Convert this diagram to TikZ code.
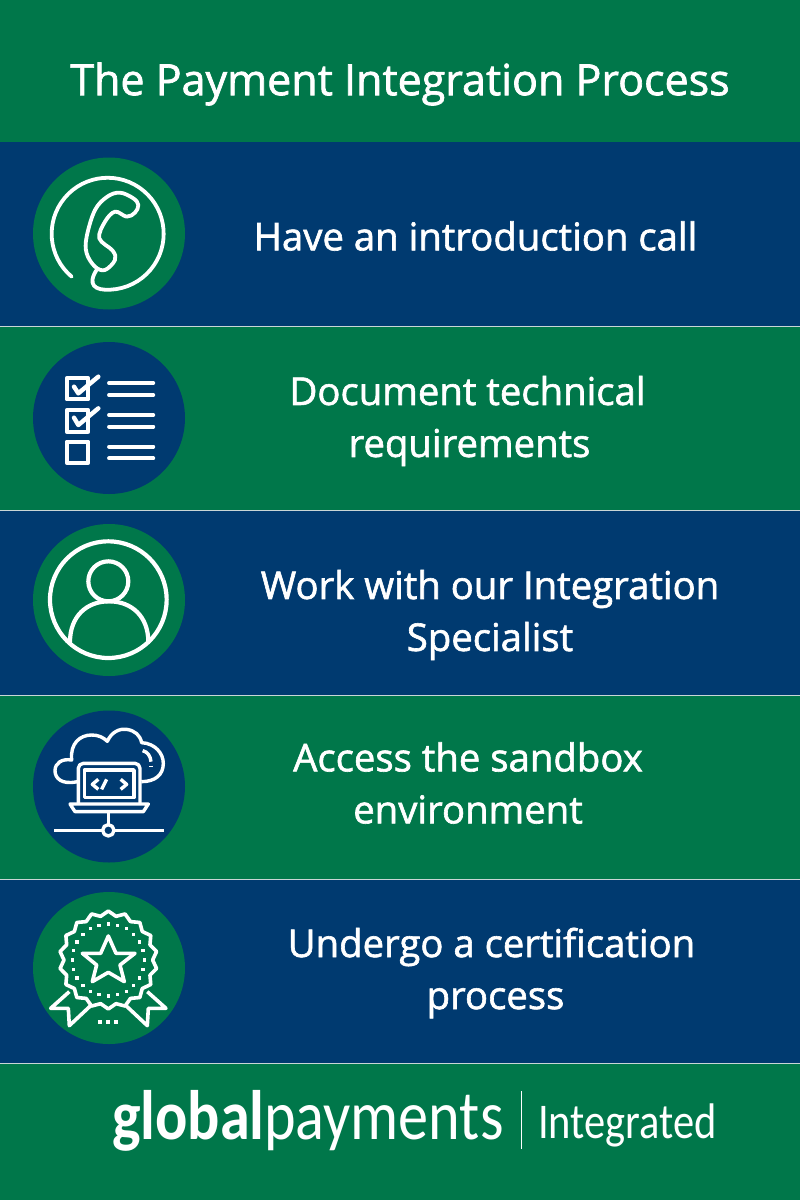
\documentclass[tikz,border=0pt]{standalone}
\usepackage{fontspec}
\setmainfont{Open Sans}[FakeBold=1.6]
\newfontfamily\logofont{Carlito}[FakeStretch=0.86]
\newfontfamily\logothin{Carlito}[FakeStretch=0.85]
\definecolor{paygreen}{HTML}{00774A}
\definecolor{payblue}{HTML}{003A70}
\definecolor{payrule}{HTML}{C9D6D6}
\tikzset{
  band/.style={anchor=north west, inner sep=0, outer sep=0, minimum width=800pt},
  disc/.style={circle, inner sep=0, outer sep=0, minimum size=152pt},
  label/.style={white, align=center, font=\fontsize{38.3}{52}\selectfont},
  icon/.style={white, line width=3.8pt, line join=round, line cap=round},
  zoomed/.style 2 args={shift={(#1,#2)}, scale=0.3333},
}
\begin{document}
\begin{tikzpicture}[x=1pt, y=-1pt]
\useasboundingbox (0,0) rectangle (800,1200);
% bands
\node[band, fill=paygreen, minimum height=142pt] (titleband) at (0,0){};
\node[band, fill=payblue, minimum height=184pt] (callband) at (0,142){};
\node[band, fill=paygreen, minimum height=184pt] (docband) at (0,326){};
\node[band, fill=payblue, minimum height=185pt] (workband) at (0,510){};
\node[band, fill=paygreen, minimum height=184pt] (sandband) at (0,695){};
\node[band, fill=payblue, minimum height=184pt] (certband) at (0,879){};
\node[band, fill=paygreen, minimum height=137pt] (logoband) at (0,1063){};
\foreach \b in {callband,docband,workband,sandband,certband}
  \draw[payrule, line width=.8pt, yshift=.6pt] (\b.south west) -- (\b.south east);
% discs
\node[disc, fill=paygreen] (calldisc) at (109,233.5){};
\node[disc, fill=payblue] (docdisc) at (109,418){};
\node[disc, fill=paygreen] (workdisc) at (109,600){};
\node[disc, fill=payblue] (sanddisc) at (109,786.5){};
\node[disc, fill=paygreen] (certdisc) at (109,968){};
% labels
\node[white, font=\fontsize{43}{52}\selectfont] (titlelabel) at (400,84){The Payment Integration Process};
\node[label] (calllabel) at (475.5,236){Have an introduction call};
\node[label] (doclabel) at (469.5,421){Document technical\kern4pt\\requirements};
\node[label] (worklabel) at (490,615){Work with our Integration\\Specialist};
\node[label] (sandlabel) at (468,783){Access the sandbox\\environment};
\node[label] (certlabel) at (495.5,973){Undergo a certification\kern8pt\\process};
% phone
\begin{scope}[zoomed={20}{150}, icon]
\draw (155,380) arc[start angle=130, end angle=447, radius=168]
  .. controls (225,422) and (200,405) .. (231,358);
\draw plot[smooth cycle, tension=.6] coordinates {(300,128) (340,145) (355,165) (345,188) (320,200)
  (285,185) (255,215) (238,265) (278,302) (285,330) (255,360) (225,350) (200,310) (200,260) (225,180) (262,140)};
\end{scope}
% checklist
\begin{scope}[zoomed={20}{335}, icon]
\draw (140,130) rectangle (205,193);
\draw (140,226) rectangle (205,290);
\draw (140,320) rectangle (205,384);
\draw[line width=4.4pt] (162,155) -- (175,175) -- (235,125);
\draw[line width=4.4pt] (162,248) -- (175,270) -- (235,220);
\foreach \y in {144,180,240,275,335,370}
  \draw (267,\y) -- (400,\y);
\end{scope}
% person
\begin{scope}[zoomed={20}{518}, icon, line width=4.2pt]
\draw (265,245) circle[radius=175];
\draw (265,190) circle[radius=60];
\draw (150,372) .. controls (150,295) and (200,250) .. (267,250) .. controls (335,250) and (385,295) .. (385,372);
\end{scope}
% laptop and cloud
\begin{scope}[zoomed={20}{700}, icon, line width=3.4pt, line cap=butt]
\draw[rounded corners=5pt] (175,312) -- (175,190) -- (360,190) -- (360,312);
\draw (193,210) rectangle (342,293);
\draw (150,312) -- (385,312) -- (370,335) -- (165,335) -- cycle;
\draw (265,335) -- (265,374);
\draw (265,391) circle[radius=17];
\draw (103,391) -- (248,391);
\draw (282,391) -- (432,391);
\draw (235,238) -- (217,253) -- (235,268);
\draw (260,238) -- (245,268);
\draw (302,238) -- (320,253) -- (302,268);
\draw (172,245) .. controls (125,255) and (105,235) .. (105,212) .. controls (105,190) and (125,175) .. (155,180)
  .. controls (150,130) and (180,105) .. (215,105) .. controls (235,105) and (250,112) .. (262,124)
  .. controls (275,95) and (300,85) .. (320,88) .. controls (345,92) and (360,105) .. (365,128)
  .. controls (405,130) and (430,160) .. (430,190) .. controls (430,225) and (405,245) .. (364,245);
\draw (368,152) .. controls (382,155) and (392,168) .. (393,185);
\draw (393,197) -- (393,201);
\end{scope}
% award
\begin{scope}[zoomed={20}{885}, icon, line width=3.6pt, line cap=butt]
\draw plot[samples=36, domain=0:35] ({265+(140+7*cos(180*\x))*cos(10*\x+270)},{225+(140+7*cos(180*\x))*sin(10*\x+270)}) -- cycle;
\foreach \a in {0,15,...,345}
  \fill[white] ({265+108*cos(\a)-5},{225+108*sin(\a)-5}) rectangle +(10,10);
\draw (265,153) -- (288,205) -- (345,205) -- (300,240) -- (313,290) -- (265,262)
  -- (217,290) -- (230,240) -- (187,205) -- (242,205) -- cycle;
\draw (148,320) -- (92,370) -- (145,370) -- (148,422) -- (212,362);
\draw (382,320) -- (438,370) -- (385,370) -- (382,422) -- (318,362);
\foreach \x in {240,263,288}
  \fill[white] (\x-6,404) rectangle +(12,12);
\end{scope}
% logo
\node[white, anchor=base west, inner sep=0, font=\logofont\bfseries\fontsize{70}{70}\selectfont] (globalword) at (112,1139){global};
\node[white, anchor=base west, inner sep=0, font=\logofont\fontsize{70}{70}\selectfont] (paymentsword) at (264,1139){payments};
\coordinate (ruletop) at (521,1091);
\coordinate (rulefoot) at (521,1149);
\draw[white, line width=.8pt] (ruletop) -- (rulefoot);
\node[white, anchor=base west, inner sep=0, font=\logothin\fontsize{50}{50}\selectfont] (integratedword) at (538,1138){Integrated};
\end{tikzpicture}
\end{document}
